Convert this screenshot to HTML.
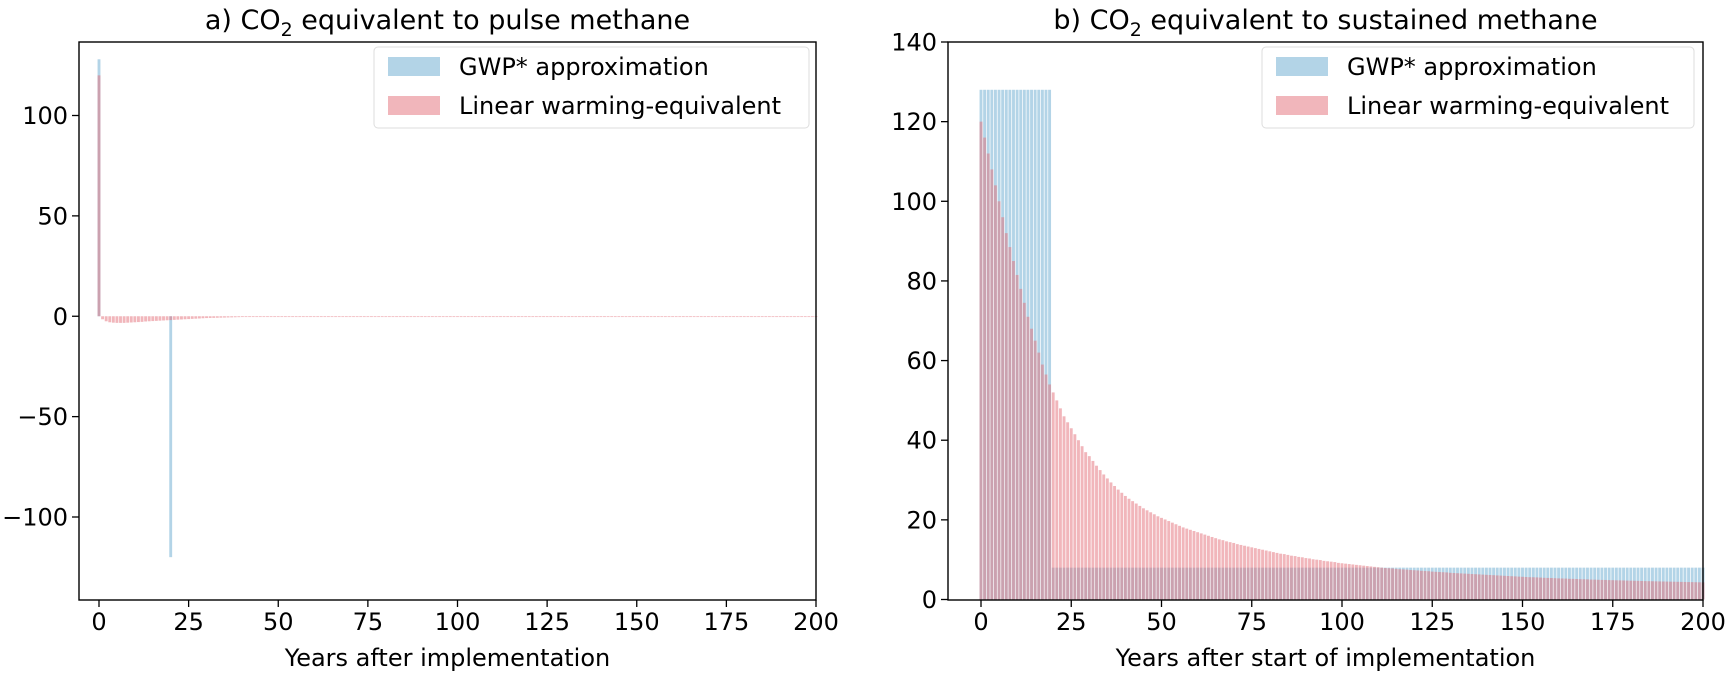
<!DOCTYPE html>
<html><head><meta charset="utf-8"><style>
body{margin:0;background:#fff}
svg text{font-family:"DejaVu Sans","Liberation Sans",sans-serif;fill:#000}
</style></head><body>
<svg id="fig" width="1725" height="671" viewBox="0 0 1725 671" xmlns="http://www.w3.org/2000/svg"></svg>
<script>
const years = Array.from({length:201},(_,i)=>i);
const pulseGwp = [128,0,0,0,0,0,0,0,0,0,0,0,0,0,0,0,0,0,0,0,-120];
const pulseLinear = [120,-1.5,-2.5,-3,-3.2,-3.3,-3.3,-3.3,-3.2,-3.1,-3,-2.9,-2.8,-2.6,-2.5,-2.4,-2.3,-2.2,-2.1,-2,-1.9,-1.8,-1.7,-1.6,-1.5,-1.4,-1.3,-1.2,-1.1,-1,-0.9,-0.85,-0.8,-0.75,-0.7,-0.65,-0.6,-0.55,-0.5,-0.45,-0.4,-0.38,-0.35,-0.32,-0.3,-0.28,-0.25,-0.22,-0.2,-0.18,-0.15,
-0.15,-0.14,-0.14,-0.13,-0.13,-0.12,-0.12,-0.12,-0.11,-0.11,-0.11,-0.1,-0.1,-0.1,-0.1,-0.1,-0.1,-0.1,-0.1,-0.1,
-0.1,-0.1,-0.1,-0.1,-0.1,-0.1,-0.1,-0.1,-0.1,-0.1,-0.1,-0.1,-0.1,-0.1,-0.1,-0.1,-0.1,-0.1,-0.1,-0.1,
-0.1,-0.1,-0.1,-0.1,-0.1,-0.1,-0.1,-0.1,-0.1,-0.1,-0.1,-0.1,-0.1,-0.1,-0.1,-0.1,-0.1,-0.1,-0.1,-0.1,
-0.1,-0.1,-0.1,-0.1,-0.1,-0.1,-0.1,-0.1,-0.1,-0.1,-0.1,-0.1,-0.1,-0.1,-0.1,-0.1,-0.1,-0.1,-0.1,-0.1,
-0.1,-0.1,-0.1,-0.1,-0.1,-0.1,-0.1,-0.1,-0.1,-0.1,-0.1,-0.1,-0.1,-0.1,-0.1,-0.1,-0.1,-0.1,-0.1,-0.1,
-0.1,-0.1,-0.1,-0.1,-0.1,-0.1,-0.1,-0.1,-0.1,-0.1,-0.1,-0.1,-0.1,-0.1,-0.1,-0.1,-0.1,-0.1,-0.1,-0.1,
-0.1,-0.1,-0.1,-0.1,-0.1,-0.1,-0.1,-0.1,-0.1,-0.1,-0.1,-0.1,-0.1,-0.1,-0.1,-0.1,-0.1,-0.1,-0.1,-0.1,
-0.1,-0.1,-0.1,-0.1,-0.1,-0.1,-0.1,-0.1,-0.1,-0.1];
const sustGwp = [
128,128,128,128,128,128,128,128,128,128,128,128,128,128,128,128,128,128,128,128,
8,8,8,8,8,8,8,8,8,8,8,8,8,8,8,8,8,8,8,8,
8,8,8,8,8,8,8,8,8,8,8,8,8,8,8,8,8,8,8,8,
8,8,8,8,8,8,8,8,8,8,8,8,8,8,8,8,8,8,8,8,
8,8,8,8,8,8,8,8,8,8,8,8,8,8,8,8,8,8,8,8,
8,8,8,8,8,8,8,8,8,8,8,8,8,8,8,8,8,8,8,8,
8,8,8,8,8,8,8,8,8,8,8,8,8,8,8,8,8,8,8,8,
8,8,8,8,8,8,8,8,8,8,8,8,8,8,8,8,8,8,8,8,
8,8,8,8,8,8,8,8,8,8,8,8,8,8,8,8,8,8,8,8,
8,8,8,8,8,8,8,8,8,8,8,8,8,8,8,8,8,8,8,8,8];
const sustLinear = [120,116,112,108,104,100,96,92,88.5,85,81.5,78,74.5,71,68,65,62,59,56.5,54,52,
50,48,46,44.5,43,41.5,40,38.5,37,36,
34.8,33.6,32.5,31.4,30.4,29.4,28.5,27.6,26.8,26,
25.3,24.7,24.1,23.5,22.9,22.4,21.9,21.4,20.9,20.5,
20.1,19.7,19.3,18.9,18.5,18.1,17.8,17.5,17.2,16.9,
16.6,16.3,16,15.7,15.4,15.1,14.9,14.6,14.4,14.2,
13.9,13.7,13.5,13.3,13.1,12.9,12.7,12.5,12.3,12.1,
11.9,11.7,11.5,11.4,11.2,11,10.9,10.7,10.6,10.4,
10.3,10.1,10,9.9,9.7,9.6,9.5,9.4,9.2,9.1,
9,8.9,8.8,8.7,8.6,8.5,8.4,8.3,8.2,8.1,
8,7.9,7.85,7.8,7.7,7.6,7.55,7.5,7.4,7.35,
7.3,7.2,7.15,7.1,7,6.95,6.9,6.85,6.8,6.7,
6.65,6.6,6.55,6.5,6.45,6.4,6.35,6.3,6.25,6.2,
6.15,6.1,6.05,6,5.95,5.9,5.85,5.8,5.75,5.7,
5.65,5.6,5.58,5.55,5.5,5.45,5.42,5.4,5.35,5.3,
5.28,5.25,5.2,5.18,5.15,5.1,5.08,5.05,5,4.98,
4.95,4.92,4.9,4.87,4.85,4.82,4.8,4.78,4.75,4.72,
4.7,4.68,4.65,4.62,4.6,4.58,4.56,4.54,4.52,4.5,
4.48,4.46,4.44,4.42,4.4,4.38,4.36,4.34,4.32,4.3];
const xTicks = [0,25,50,75,100,125,150,175,200];
const yTicksA = [100,50,0,-50,-100];
const yTicksB = [0,20,40,60,80,100,120,140];
const legendLabels = ["GWP* approximation","Linear warming-equivalent"];

const NS="http://www.w3.org/2000/svg";
const svg=document.getElementById('fig');
function mk(tag,attrs,parent){const e=document.createElementNS(NS,tag);for(const k in attrs)e.setAttribute(k,attrs[k]);(parent||svg).appendChild(e);return e;}
const BLUE="rgba(103,169,207,0.5)", RED="rgba(227,110,120,0.5)";
const FS=24;

function panel(p){
  const g=mk('g',{});
  
  
  const xs=v=>p.x0+v*(p.x200-p.x0)/200;
  const ys=v=>p.yA+(v-p.vA)*(p.yB-p.yA)/(p.vB-p.vA);
  const bw=0.8*(p.x200-p.x0)/200;
  function bars(vals,color,nm){
    vals.forEach((v,i)=>{
      if(v===0)return;
      const y0=ys(0),y1=ys(v);
      const r=mk('rect',{x:xs(years[i])-bw/2,y:Math.min(y0,y1),width:bw,height:Math.max(Math.abs(y1-y0),0.8),fill:color},g);
      
      
    });
  }
  bars(p.gwp,BLUE,'gwp-star');
  bars(p.lin,RED,'linear-warming');
  const fr=mk('rect',{x:p.L,y:p.T,width:p.R-p.L,height:p.B-p.T,fill:'none',stroke:'#000','stroke-width':1.4},g);
  
  
  xTicks.forEach(t=>{
    const x=xs(t);
    mk('line',{x1:x,x2:x,y1:p.B,y2:p.B+7,stroke:'#000','stroke-width':1.3},g);
    const tx=mk('text',{x:x,y:630,'font-size':FS,'text-anchor':'middle'},g);
    tx.textContent=t;
    
    
  });
  p.yt.forEach(t=>{
    const y=ys(t);
    mk('line',{x1:p.L-7,x2:p.L,y1:y,y2:y,stroke:'#000','stroke-width':1.3},g);
    const tx=mk('text',{x:p.L-11,y:y+8.5,'font-size':FS,'text-anchor':'end'},g);
    tx.textContent=t<0?'\u2212'+(-t):t;
    
    
  });
  const xl=mk('text',{x:(p.L+p.R)/2,y:666,'font-size':FS,'text-anchor':'middle'},g);
  xl.textContent=p.xlabel;
  
  
  const ti=mk('text',{x:(p.L+p.R)/2,y:29,'font-size':27,'text-anchor':'middle'},g);
  ti.innerHTML=p.t1+'CO<tspan font-size="19" dy="7">2</tspan><tspan dy="-7"> '+p.t2+'</tspan>';
  
  
  const lg=mk('g',{},g);
  
  
  mk('rect',{x:p.lx,y:47,width:p.lw,height:81,rx:4,fill:'#fff','fill-opacity':0.8,stroke:'#ddd'},lg);
  [BLUE,RED].forEach((c,i)=>{
    mk('rect',{x:p.lx+14,y:57+i*39,width:52,height:19,fill:c},lg);
    const t=mk('text',{x:p.lx+85,y:75+i*39,'font-size':FS},lg);
    t.textContent=legendLabels[i];
    
    
  });
}
panel({name:'panel-a-pulse',L:79,R:816,T:42,B:600,x0:99,x200:816,vA:100,yA:115.5,vB:-100,yB:517,
  gwp:pulseGwp,lin:pulseLinear,yt:yTicksA,xlabel:'Years after implementation',t1:'a) ',t2:'equivalent to pulse methane',lx:374,lw:435});
panel({name:'panel-b-sustained',L:948,R:1703,T:42,B:600,x0:981,x200:1703,vA:140,yA:42,vB:0,yB:599.5,
  gwp:sustGwp,lin:sustLinear,yt:yTicksB,xlabel:'Years after start of implementation',t1:'b) ',t2:'equivalent to sustained methane',lx:1262,lw:432});
</script>
</body></html>
